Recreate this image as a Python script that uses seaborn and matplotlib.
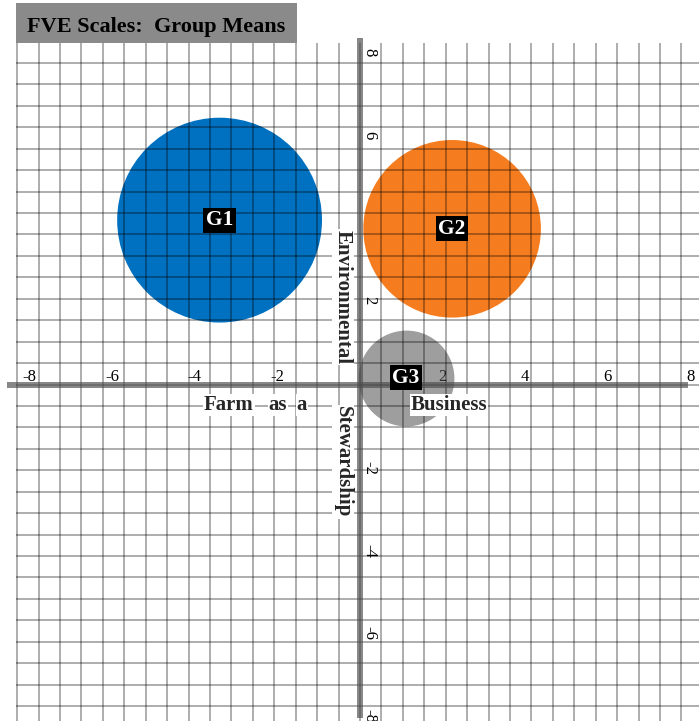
import numpy as np
import pandas as pd
import matplotlib
matplotlib.use("Agg")
import matplotlib.pyplot as plt
from matplotlib.patches import Rectangle
import seaborn as sns

# ---------------- data ----------------
groups = ["G1", "G2", "G3"]
x_means = [-3.40, 2.23, 1.11]      # Farm as a Business
y_means = [3.98, 3.77, 0.16]       # Environmental Stewardship
radii = [2.48, 2.15, 1.16]         # bubble radius (axis units)
group_colors = ["#0070C0", "#F57D20", "#4F4F4F"]
tick_values = [-8, -6, -4, -2, 2, 4, 6, 8]
title_text = "FVE Scales:  Group Means"
x_title_words = ["Farm", "as", "a"]
x_title_right = "Business"
y_title_top = "Environmental"
y_title_bottom = "Stewardship"

# ---------------- layout / style ----------------
W, H = 699, 721
K = 41.3            # pixels per unit
OX, OY = 360, 384.5  # pixel position of the origin
GRID_PX = 21.43
SERIF = ["Liberation Serif", "DejaVu Serif"]


def dx(px):
    return (px - OX) / K


def dy(py):
    return (OY - py) / K


sns.set_theme(style="white")
plt.rcParams["font.family"] = SERIF

fig = plt.figure(figsize=(W / 100, H / 100), dpi=100)
fig.patch.set_facecolor("white")
ax = fig.add_axes([0, 0, 1, 1])

df = pd.DataFrame({"group": groups, "x": x_means, "y": y_means, "r": radii})
palette = dict(zip(groups, group_colors))
size_map = {g: (2 * r * K * 0.72) ** 2 for g, r in zip(groups, radii)}

main = df[df["group"] != "G3"]
small = df[df["group"] == "G3"]
sns.scatterplot(data=main, x="x", y="y", hue="group", palette=palette,
                size="group", sizes=size_map, legend=False, linewidth=0,
                zorder=1, ax=ax)
sns.scatterplot(data=small, x="x", y="y", hue="group", palette=palette,
                size="group", sizes=size_map, legend=False, linewidth=0,
                alpha=0.55, zorder=1, ax=ax)

ax.set_xlim(dx(0), dx(W))
ax.set_ylim(dy(H), dy(0))
ax.set_xlabel("")
ax.set_ylabel("")

# grid (decorative background squares)
step = GRID_PX / K
for k in range(-16, 16):
    ax.vlines(k * step, dy(H), dy(43), colors="black", alpha=0.32,
              linewidth=1.4, zorder=2)
for k in range(-15, 16):
    ax.hlines(k * step, dx(16), dx(W), colors="black", alpha=0.32,
              linewidth=1.4, zorder=2)

# axis lines
ax.plot([dx(7), dx(688)], [0, 0], color="#4F4F4F", alpha=0.68, lw=4.3,
        solid_capstyle="butt", zorder=3)
ax.plot([0, 0], [dy(718), dy(38)], color="#4F4F4F", alpha=0.68, lw=4.3,
        solid_capstyle="butt", zorder=3)

# ticks at the crossing axes
for s in ax.spines.values():
    s.set_visible(False)
ax.spines["top"].set_position(("data", 0))
ax.spines["right"].set_position(("data", 0))
ax.xaxis.tick_top()
ax.yaxis.tick_right()
ax.set_xticks(tick_values)
ax.set_yticks(tick_values)
ax.set_xticklabels([str(v) for v in tick_values])
ax.set_yticklabels([str(v) for v in tick_values])
ax.tick_params(length=0, labelsize=12, labelcolor="black")
ax.tick_params(axis="x", pad=0)
ax.tick_params(axis="y", pad=1, labelrotation=-90)
for lab in ax.get_xticklabels() + ax.get_yticklabels():
    lab.set_zorder(6)

# group labels
for g, x, y in zip(groups, x_means, y_means):
    ax.text(x, y, g, color="white", fontsize=15.5, fontweight="bold",
            ha="center", va="center", zorder=7,
            bbox=dict(boxstyle="square,pad=0.12", fc="black", ec="none"))

# axis titles
wbox = dict(boxstyle="square,pad=0.05", fc="white", ec="none")
for word, px in zip(x_title_words, [229, 278, 302]):
    ax.text(dx(px), dy(405), word, fontsize=15, fontweight="bold",
            ha="center", va="center", zorder=5, bbox=wbox)
ax.text(dx(449), dy(405), x_title_right, fontsize=15, fontweight="bold",
        ha="center", va="center", zorder=5, bbox=wbox)
ax.text(dx(343), dy(297), y_title_top, fontsize=15, fontweight="bold",
        rotation=-90, ha="center", va="center", zorder=5, bbox=wbox)
ax.text(dx(343), dy(462), y_title_bottom, fontsize=15, fontweight="bold",
        rotation=-90, ha="center", va="center", zorder=5, bbox=wbox)

# title box
ax.add_patch(Rectangle((16 / W, 1 - 43 / H), (297 - 16) / W, 40 / H,
                       transform=fig.transFigure, fc="#8A8A8A", ec="none",
                       zorder=10, clip_on=False))
fig.text(27 / W, 1 - 32 / H, title_text, fontsize=16, fontweight="bold",
         ha="left", va="baseline", color="black", zorder=11)

fig.savefig("out.png", dpi=100, facecolor="white")
